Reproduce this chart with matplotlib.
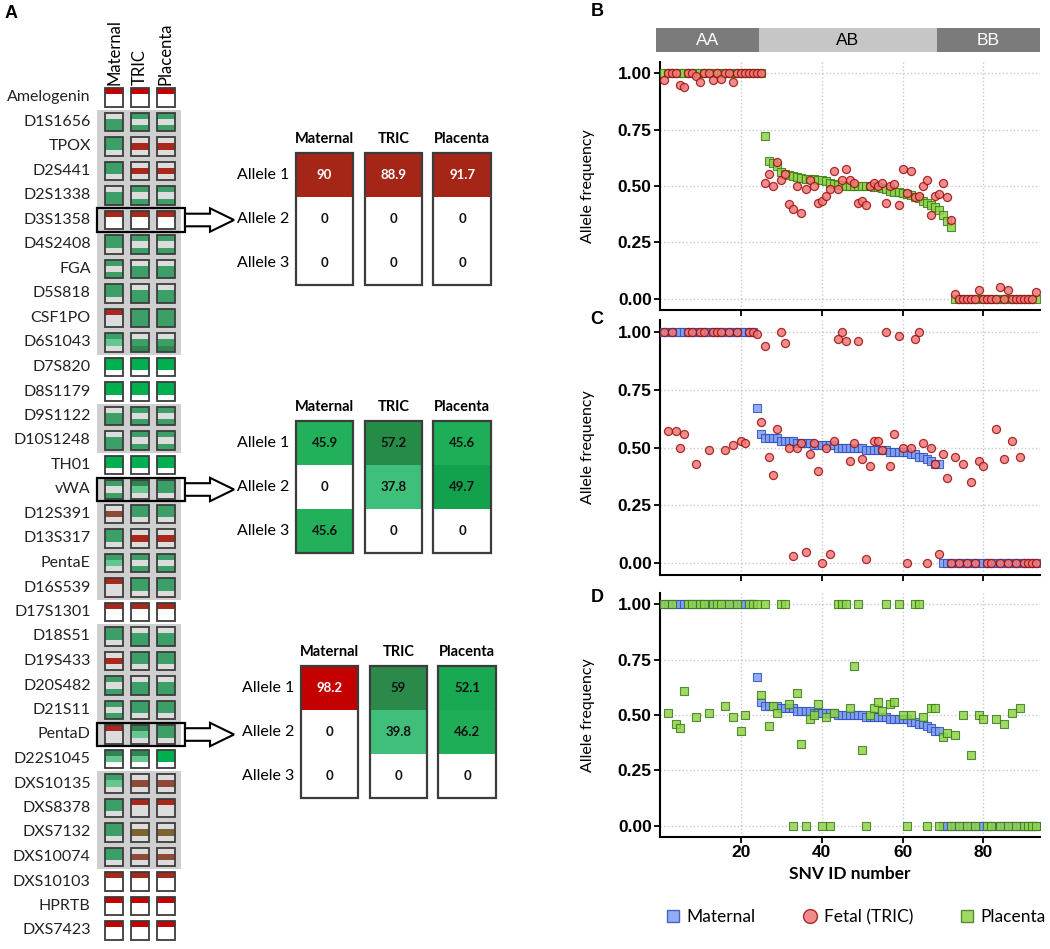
import numpy as np
import matplotlib.pyplot as plt
from matplotlib.patches import Rectangle, Polygon
from matplotlib.lines import Line2D
from matplotlib.ticker import FormatStrFormatter

# ---------------- panel A : STR markers ----------------
markers = ["Amelogenin", "D1S1656", "TPOX", "D2S441", "D2S1338", "D3S1358",
           "D4S2408", "FGA", "D5S818", "CSF1PO", "D6S1043", "D7S820", "D8S1179",
           "D9S1122", "D10S1248", "TH01", "vWA", "D12S391", "D13S317", "PentaE",
           "D16S539", "D17S1301", "D18S51", "D19S433", "D20S482", "D21S11",
           "PentaD", "D22S1045", "DXS10135", "DXS8378", "DXS7132", "DXS10074",
           "DXS10103", "HPRTB", "DXS7423"]
samples = ["Maternal", "TRIC", "Placenta"]

# colour of the three bands (top, middle, bottom) of each small box
box_codes = [
    ("Rww", "Rww", "Rww"), ("gGG", "GgG", "GgG"), ("GGg", "grg", "grg"),
    ("GGg", "grg", "grg"), ("gGG", "GgG", "GgG"), ("rww", "rww", "rww"),
    ("GGg", "GgG", "GgG"), ("GgG", "gGG", "gGG"), ("GGg", "gGG", "gGG"),
    ("rgg", "GGG", "GGG"), ("Glg", "gGD", "gGD"), ("LLw", "LLw", "LLw"),
    ("LLw", "LLw", "LLw"), ("gGG", "GgG", "GgG"), ("gGG", "GgG", "GgG"),
    ("LLw", "LLw", "LLw"), ("GgG", "Dlg", "GGg"), ("gbg", "GGg", "GGg"),
    ("GGg", "grg", "grg"), ("Glg", "GgG", "GgG"), ("rgg", "GGg", "GGg"),
    ("rww", "rww", "rww"), ("GGg", "gGG", "gGG"), ("grg", "GGg", "GGg"),
    ("GgG", "gGG", "gGG"), ("GgG", "GGg", "GGg"), ("rgg", "Dlg", "GGg"),
    ("Dlw", "Dlw", "LLw"), ("Glg", "gbg", "gbg"), ("GGg", "rgg", "rgg"),
    ("GGg", "gog", "gog"), ("GGg", "gbg", "gbg"), ("rww", "rww", "rww"),
    ("Rww", "Rww", "Rww"), ("Rww", "Rww", "Rww"),
]
box_palette = {"R": "#c40000", "r": "#a8281c", "b": "#8e4a36", "o": "#7d6232",
               "G": "#3d9f68", "D": "#2f8550", "l": "#66c690", "L": "#00b050",
               "g": "#dcdcdc", "w": "#ffffff"}
gray_groups = [(1, 10), (13, 14), (16, 20), (22, 26), (28, 31)]
boxed_rows = [5, 16, 26]

alleles = ["Allele 1", "Allele 2", "Allele 3"]
d3s1358_values = [[90, 0, 0], [88.9, 0, 0], [91.7, 0, 0]]
vwa_values = [[45.9, 0, 45.6], [57.2, 37.8, 0], [45.6, 49.7, 0]]
pentad_values = [[98.2, 0, 0], [59, 39.8, 0], [52.1, 46.2, 0]]
d3s1358_colors = [["#a52516", "w", "w"], ["#a52516", "w", "w"], ["#a52516", "w", "w"]]
vwa_colors = [["#23b05b", "w", "#23b05b"], ["#258c48", "#3ec07a", "w"], ["#1eae57", "#12a24d", "w"]]
pentad_colors = [["#c40000", "w", "w"], ["#2b8a4a", "#3fbf7a", "w"], ["#19a953", "#1fae57", "w"]]

# ---------------- panels B-D : SNV allele frequencies ----------------
genotypes = ["AA", "AB", "BB"]
genotype_edges = [-1.0, 24.5, 68.5, 94.0]

fetal_b = [0.97, 1.00, 1.00, 1.00, 0.95, 0.94, 1.00, 1.00, 0.99, 0.96,
           1.00, 1.00, 0.97, 1.00, 0.975, 1.00, 1.00, 0.96, 1.00, 1.00,
           1.00, 1.00, 1.00, 1.00, 1.00,
           0.515, 0.555, 0.50, 0.605, 0.525, 0.555, 0.42, 0.40, 0.50, 0.38,
           0.485, 0.525, 0.50, 0.425, 0.435, 0.455, 0.485, 0.565, 0.485, 0.525,
           0.575, 0.525, 0.515, 0.425, 0.435, 0.415, 0.50, 0.515, 0.50, 0.515,
           0.425, 0.50, 0.51, 0.415, 0.575, 0.47, 0.565, 0.45, 0.455, 0.50,
           0.525, 0.37, 0.455, 0.465, 0.515, 0.45, 0.35,
           0.02, 0.00, 0.00, 0.00, 0.00, 0.00, 0.04, 0.00, 0.00, 0.00,
           0.00, 0.05, 0.00, 0.04, 0.00, 0.00, 0.00, 0.00, 0.00, 0.00, 0.03]
placenta_b = [1.00, 1.00, 1.00, 1.00, 1.00, 1.00, 1.00, 1.00, 1.00, 1.00,
              1.00, 1.00, 1.00, 1.00, 1.00, 1.00, 1.00, 1.00, 1.00, 1.00,
              1.00, 1.00, 1.00, 1.00, 1.00,
              0.72, 0.61, 0.60, 0.59, 0.56, 0.555, 0.55, 0.545, 0.54, 0.535,
              0.53, 0.53, 0.53, 0.525, 0.525, 0.52, 0.515, 0.51, 0.505, 0.505,
              0.50, 0.50, 0.50, 0.50, 0.50, 0.50, 0.50, 0.495, 0.495, 0.49,
              0.485, 0.48, 0.475, 0.475, 0.47, 0.465, 0.46, 0.45, 0.445, 0.435,
              0.425, 0.415, 0.405, 0.395, 0.37, 0.345, 0.32,
              0.00, 0.00, 0.00, 0.00, 0.00, 0.00, 0.00, 0.00, 0.00, 0.00,
              0.00, 0.00, 0.00, 0.00, 0.00, 0.00, 0.00, 0.00, 0.00, 0.00, 0.00]
maternal = [1.00, 1.00, 1.00, 1.00, 1.00, 1.00, 1.00, 1.00, 1.00, 1.00,
            1.00, 1.00, 1.00, 1.00, 1.00, 1.00, 1.00, 1.00, 1.00, 1.00,
            1.00, 1.00, 1.00,
            0.67, 0.56, 0.54, 0.54, 0.54, 0.54, 0.53, 0.53, 0.53, 0.53,
            0.52, 0.52, 0.52, 0.52, 0.51, 0.51, 0.51, 0.51, 0.51, 0.51,
            0.50, 0.50, 0.50, 0.50, 0.50, 0.50, 0.50, 0.49, 0.49, 0.49,
            0.49, 0.49, 0.49, 0.48, 0.48, 0.48, 0.48, 0.48, 0.47, 0.47,
            0.46, 0.46, 0.45, 0.44, 0.43, 0.43,
            0.00, 0.00, 0.00, 0.00, 0.00, 0.00, 0.00, 0.00, 0.00, 0.00,
            0.00, 0.00, 0.00, 0.00, 0.00, 0.00, 0.00, 0.00, 0.00, 0.00,
            0.00, 0.00, 0.00, 0.00]
fetal_c = [1.00, 0.57, 1.00, 0.57, 0.50, 0.56, 1.00, 1.00, 0.43, 1.00,
           1.00, 0.49, 1.00, 1.00, 1.00, 0.49, 1.00, 0.51, 1.00, 0.53,
           0.52, 1.00, 1.00,
           0.99, 0.61, 0.94, 0.46, 0.38, 0.58, 1.00, 0.95, 0.50, 0.03,
           0.50, 0.52, 0.05, 0.47, 0.52, 0.40, 0.00, 0.50, 0.04, 0.53,
           0.97, 1.00, 0.96, 0.44, 0.52, 0.96, 0.45, 0.02, 0.42, 0.53,
           0.53, 0.49, 1.00, 0.42, 0.56, 0.98, 0.50, 0.00, 0.50, 0.97,
           1.00, 0.52, 0.00, 0.50, 0.43, 0.04,
           0.47, 0.37, 0.00, 0.46, 0.00, 0.43, 0.00, 0.35, 0.00, 0.44,
           0.42, 0.00, 0.00, 0.58, 0.00, 0.45, 0.00, 0.53, 0.00, 0.46,
           0.00, 0.00, 0.00, 0.00]
placenta_d = [1.00, 0.51, 1.00, 0.46, 0.44, 0.61, 1.00, 1.00, 0.49, 1.00,
              1.00, 0.51, 1.00, 1.00, 1.00, 0.54, 1.00, 0.49, 1.00, 0.43,
              0.50, 1.00, 1.00,
              1.00, 0.59, 1.00, 0.45, 0.54, 0.51, 1.00, 1.00, 0.55, 0.00,
              0.60, 0.37, 0.00, 0.48, 0.50, 0.55, 0.00, 0.49, 0.00, 0.51,
              1.00, 1.00, 1.00, 0.53, 0.72, 1.00, 0.34, 0.00, 0.50, 0.53,
              0.56, 0.52, 1.00, 0.55, 0.56, 1.00, 0.50, 0.00, 0.50, 1.00,
              1.00, 0.49, 0.00, 0.53, 0.53, 0.00,
              0.40, 0.42, 0.00, 0.41, 0.00, 0.50, 0.00, 0.32, 0.00, 0.50,
              0.48, 0.00, 0.00, 0.48, 0.00, 0.46, 0.00, 0.51, 0.00, 0.53,
              0.00, 0.00, 0.00, 0.00]
snv_id = np.arange(1, len(maternal) + 1)

W, H = 1050, 949
TXT = "Lato"
NUM = "Liberation Sans"


def px_rect(x0, y0, x1, y1):
    return [x0 / W, 1 - y1 / H, (x1 - x0) / W, (y1 - y0) / H]


fig = plt.figure(figsize=(W / 100, H / 100), dpi=100)

# ---- marker grid ----
col_px, row_px = 25.9, 24.5
ax = fig.add_axes([0, 0, 240 / W, 1])
ax.set_xlim(-114 / col_px, (240 - 114) / col_px)
ax.set_ylim((H - 97.5) / row_px, -97.5 / row_px)
ax.axis("off")

bw, bh = 18.3 / col_px, 18.3 / row_px
gx0, gx1 = (96.7 - 114) / col_px, (181 - 114) / col_px
for r0, r1 in gray_groups:
    ax.add_patch(Rectangle((gx0, r0 - 0.5), gx1 - gx0, r1 - r0 + 1,
                           fc="#cfcfcf", ec="none", zorder=0))

for i, name in enumerate(markers):
    ax.text(-0.9, i, name, ha="right", va="center", fontsize=11.5, family=TXT, color="#222222")
    for j, code in enumerate(box_codes[i]):
        for k, c in enumerate(code):
            ax.add_patch(Rectangle((j - bw / 2, i - bh / 2 + k * bh / 3), bw, bh / 3,
                                   fc=box_palette[c], ec="none", zorder=1))
        ax.add_patch(Rectangle((j - bw / 2, i - bh / 2), bw, bh, fill=False,
                               ec="#3c3c3c", lw=1.3, zorder=2))

for j, s in enumerate(samples):
    ax.text(j, -0.52, s, rotation=90, ha="center", va="bottom", fontsize=12, family=TXT)

rx1 = (185 - 114) / col_px
hx, tx = (210 - 114) / col_px, (234 - 114) / col_px
sh, hh = 6.3 / row_px, 11.7 / row_px
for r in boxed_rows:
    ax.add_patch(Rectangle((gx0, r - 0.47), rx1 - gx0, 0.94, fill=False,
                           ec="black", lw=1.6, zorder=3))
    ax.add_patch(Polygon([(rx1, r - sh), (hx, r - sh), (hx, r - hh), (tx, r),
                          (hx, r + hh), (hx, r + sh), (rx1, r + sh)],
                         closed=True, fc="white", ec="black", lw=1.5, zorder=3))

fig.text(11 / W, 1 - 14 / H, "A", fontsize=13, fontweight="bold", family=NUM,
         ha="center", va="center")


# ---- allele tables ----
def allele_table(cx0, cy0, values, colors):
    cw, ch = 68.8, 44.0
    tab = fig.add_axes(px_rect(cx0 - 90, cy0 - 50, cx0 + 2 * cw + 40, cy0 + 2 * ch + 30))
    tab.set_xlim(-90 / cw, (2 * cw + 40) / cw)
    tab.set_ylim((2 * ch + 30) / ch, -50 / ch)
    tab.axis("off")
    w = 57.6 / cw
    for j, s in enumerate(samples):
        for i in range(3):
            fc = colors[j][i]
            fc = "white" if fc == "w" else fc
            tab.add_patch(Rectangle((j - w / 2, i - 0.5), w, 1, fc=fc, ec="none"))
            v = values[j][i]
            red = fc in ("#a52516", "#c40000")
            tab.text(j, i, f"{v:g}", ha="center", va="center", fontsize=9.5,
                     fontweight="bold", family=TXT, color="white" if red else "#111111")
        tab.add_patch(Rectangle((j - w / 2, -0.5), w, 3, fill=False, ec="#3c3c3c", lw=1.6))
        tab.text(j, -0.5 - 14 / ch, s, ha="center", va="center", fontsize=10.5,
                 fontweight="bold", family=TXT)
    for i, a in enumerate(alleles):
        tab.text(-w / 2 - 6 / cw, i, a, ha="right", va="center", fontsize=11.5, family=TXT)


allele_table(324.5, 175.3, d3s1358_values, d3s1358_colors)
allele_table(324.5, 443.0, vwa_values, vwa_colors)
allele_table(329.5, 688.0, pentad_values, pentad_colors)

# ---- SNV panels ----
mat_style = dict(marker="s", s=30, facecolor="#7f9ff0", edgecolor="#2f4fbf", linewidths=0.8, alpha=0.85, zorder=3)
fet_style = dict(marker="o", s=34, facecolor="#f07878", edgecolor="#9a1010", linewidths=0.9, alpha=0.85, zorder=4)
pla_style = dict(marker="s", s=30, facecolor="#8fd44a", edgecolor="#3d7a1a", linewidths=0.8, alpha=0.85, zorder=4)


def snv_panel(rect, series, show_x):
    a = fig.add_axes(px_rect(*rect))
    for y, style in series:
        a.scatter(snv_id, y, **style)
    a.set_xlim(0, 94)
    a.set_ylim(-0.05, 1.05)
    a.set_xticks([20, 40, 60, 80])
    a.set_yticks([0, 0.25, 0.5, 0.75, 1.0])
    a.yaxis.set_major_formatter(FormatStrFormatter("%.2f"))
    a.grid(True, color="#c8c8c8", linestyle=":", linewidth=1.0)
    a.set_axisbelow(True)
    for s in ("top", "right"):
        a.spines[s].set_visible(False)
    for s in ("left", "bottom"):
        a.spines[s].set_linewidth(1.5)
    a.tick_params(length=4, width=1.3, pad=2)
    for lab in a.get_yticklabels() + a.get_xticklabels():
        lab.set_fontsize(12.5)
        lab.set_fontweight("bold")
        lab.set_family(NUM)
    if not show_x:
        a.tick_params(labelbottom=False)
    a.set_ylabel("Allele frequency", fontsize=11.5, family=TXT)
    a.yaxis.set_label_coords((595 - 660) / 380, 0.5)
    return a


ax_b = snv_panel((660, 62, 1040, 310), [(placenta_b, pla_style), (fetal_b, fet_style)], False)
ax_c = snv_panel((660, 320, 1040, 575), [(maternal, mat_style), (fetal_c, fet_style)], False)
ax_d = snv_panel((660, 593, 1040, 837), [(maternal, mat_style), (placenta_d, pla_style)], True)
ax_d.set_xlabel("SNV ID number", fontsize=12.5, fontweight="bold", family=TXT, labelpad=4)

# genotype strip above panel B
strip = fig.add_axes(px_rect(656, 28, 1040, 52))
strip.set_xlim(genotype_edges[0], genotype_edges[-1])
strip.set_ylim(0, 1)
strip.axis("off")
for g, x0, x1 in zip(genotypes, genotype_edges[:-1], genotype_edges[1:]):
    dark = g != "AB"
    strip.add_patch(Rectangle((x0, 0), x1 - x0, 1, fc="#7b7b7b" if dark else "#c6c6c6", ec="none"))
    strip.text((x0 + x1) / 2, 0.48, g, ha="center", va="center", fontsize=12.5,
               family=NUM, color="white" if dark else "black")

for lab, y in (("B", 12), ("C", 320), ("D", 598)):
    fig.text(597 / W, 1 - y / H, lab, fontsize=13, fontweight="bold", family=NUM,
             ha="center", va="center")

handles = [Line2D([], [], ls="none", marker="s", ms=9, mfc="#7f9ff0", mec="#2f4fbf", alpha=0.85),
           Line2D([], [], ls="none", marker="o", ms=10, mfc="#f07878", mec="#9a1010", alpha=0.85),
           Line2D([], [], ls="none", marker="s", ms=9, mfc="#8fd44a", mec="#3d7a1a", alpha=0.85)]
fig.legend(handles, ["Maternal", "Fetal (TRIC)", "Placenta"], loc="center",
           bbox_to_anchor=(855 / W, 1 - 917 / H), ncol=3, frameon=False,
           prop={"family": TXT, "size": 12.5}, handletextpad=0.3, columnspacing=2.6,
           handlelength=1.0)

fig.savefig("out.png", dpi=100)
